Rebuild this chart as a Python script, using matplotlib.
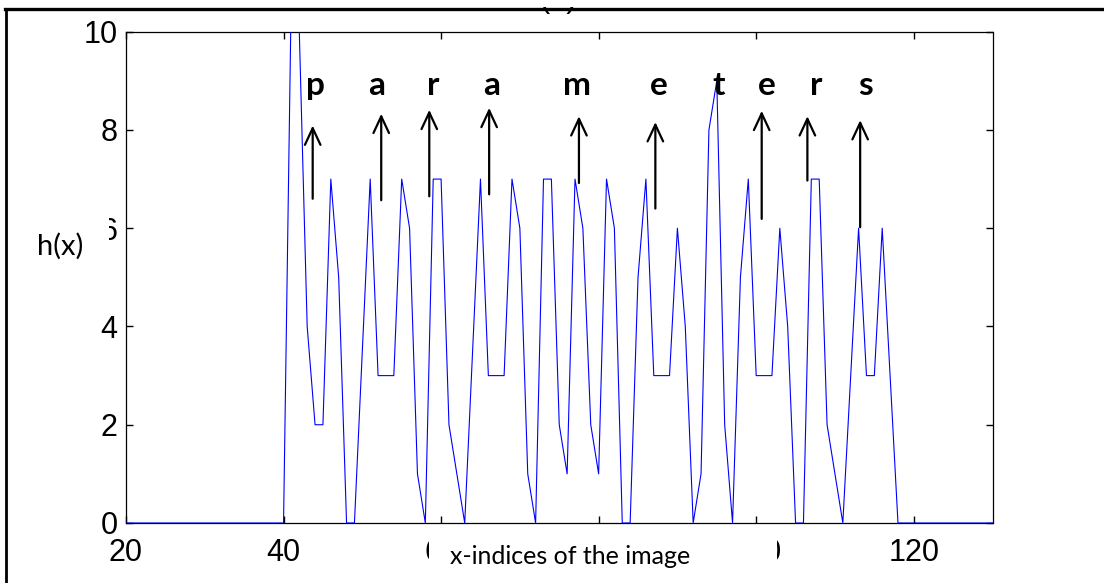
import matplotlib
matplotlib.use("Agg")
import matplotlib.pyplot as plt
from matplotlib.patches import Rectangle, FancyArrowPatch
from matplotlib.lines import Line2D

W, H = 1104, 583

# h(x), x = 40 .. 118 (zero elsewhere)
h_40s = [0, 11, 10, 4, 2, 2, 7, 5, 0, 0]
h_50s = [3.5, 7, 3, 3, 3, 7, 6, 1, 0, 7]
h_60s = [7, 2, 1, 0, 3.5, 7, 3, 3, 3, 7]
h_70s = [6, 1, 0, 7, 7, 2, 1, 7, 6, 2]
h_80s = [1, 7, 6, 0, 0, 5, 7, 3, 3, 3]
h_90s = [6, 4, 0, 1, 8, 9, 2, 0, 5, 7]
h_100s = [3, 3, 3, 6, 4, 0, 0, 7, 7, 2]
h_110s = [1, 0, 3, 6, 3, 3, 6, 3, 0]

x_idx = [20] + list(range(40, 119)) + [130]
h_vals = [0] + h_40s + h_50s + h_60s + h_70s + h_80s + h_90s + h_100s + h_110s + [0]

xticks = [20, 40, 60, 80, 100, 120]
yticks = [0, 2, 4, 6, 8, 10]

letters = list("parameters")
letter_x = [44.0, 51.8, 59.0, 66.4, 77.2, 87.7, 95.2, 101.4, 107.6, 113.9]
letter_y = 8.71

arrow_x = [43.7, 52.4, 58.5, 66.1, 77.5, 87.2, 100.7, 106.5, 113.2]
arrow_tail = [6.60, 6.57, 6.65, 6.69, 6.92, 6.40, 6.19, 6.97, 6.02]
arrow_tip = [8.09, 8.33, 8.41, 8.45, 8.28, 8.16, 8.39, 8.28, 8.20]


def fx(px):
    return px / W


def fy(py):
    return 1 - py / H


fig = plt.figure(figsize=(W / 100, H / 100), dpi=100)
ax = fig.add_axes([fx(126), fy(523), fx(992.5) - fx(126), fy(31.7) - fy(523)])

ax.plot(x_idx, h_vals, color="#0000ff", lw=0.8, zorder=3)
ax.set_xlim(20, 130)
ax.set_ylim(0, 10)
ax.set_xticks(xticks)
ax.set_yticks(yticks)
ax.tick_params(direction="in", length=5, width=1, top=True, right=True,
               labelsize=22)
ax.tick_params(axis="x", pad=11)
ax.tick_params(axis="y", pad=6)
for lab in ax.get_xticklabels() + ax.get_yticklabels():
    lab.set_fontfamily("Liberation Sans")
for s in ax.spines.values():
    s.set_linewidth(0.9)

# letters and arrows
for ch, lx in zip(letters, letter_x):
    ax.text(lx, letter_y, ch, ha="center", va="baseline", fontsize=24,
            fontweight="bold", family="Lato", zorder=5)
for axx, t0, t1 in zip(arrow_x, arrow_tail, arrow_tip):
    ax.add_patch(FancyArrowPatch((axx, t0), (axx, t1),
                                 arrowstyle="->,head_length=0.6,head_width=0.28",
                                 mutation_scale=20, lw=1.6, color="black",
                                 shrinkA=0, shrinkB=0, zorder=5))

# title cut off by the top border
fig.text(fx(558), fy(6.5), "(a)", ha="center", va="baseline", fontsize=22,
         family="Liberation Sans")
fig.patches.append(Rectangle((0, fy(7.3)), 1, 1 - fy(7.3), transform=fig.transFigure,
                             facecolor="white", edgecolor="none", zorder=10))

# label boxes pasted over the tick labels
fig.patches.append(Rectangle((fx(429), 0), fx(777) - fx(429), fy(533),
                             transform=fig.transFigure, facecolor="white",
                             edgecolor="none", zorder=10))
fig.text(fx(570), fy(557), "x-indices of the image", ha="center", va="center",
         fontsize=18, family="Lato", zorder=11)
fig.patches.append(Rectangle((fx(10), fy(290)), fx(108.5) - fx(10), fy(195) - fy(290),
                             transform=fig.transFigure, facecolor="white",
                             edgecolor="none", zorder=10))
fig.text(fx(60), fy(246), "h(x)", ha="center", va="center", fontsize=21,
         family="Lato", zorder=11)

# page border
fig.lines.append(Line2D([fx(6), fx(6)], [0, fy(9)], transform=fig.transFigure,
                        color="black", lw=2, zorder=12))
fig.lines.append(Line2D([fx(5), 1], [fy(9), fy(9)], transform=fig.transFigure,
                        color="black", lw=2.4, zorder=12))

fig.savefig("out.png", dpi=100)
